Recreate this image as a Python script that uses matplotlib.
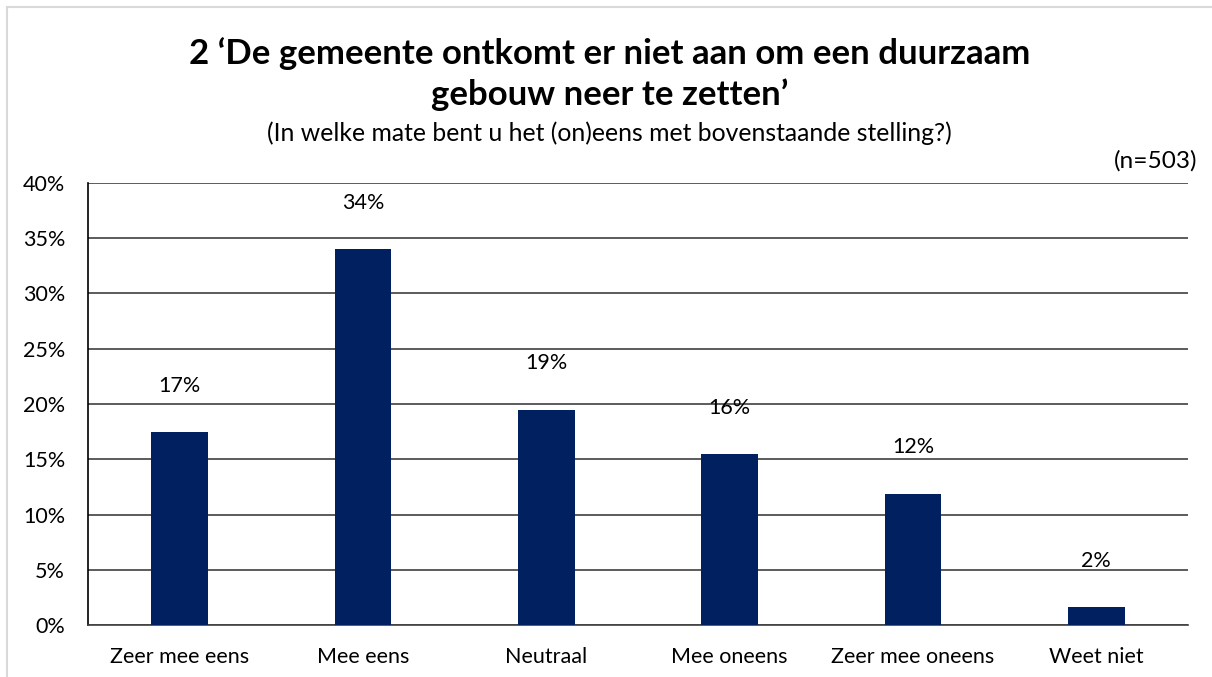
import matplotlib.pyplot as plt
from matplotlib.patches import Rectangle
from matplotlib.ticker import PercentFormatter

plt.rcParams['font.family'] = ['Lato', 'DejaVu Sans']

categories = ['Zeer mee eens', 'Mee eens', 'Neutraal', 'Mee oneens', 'Zeer mee oneens', 'Weet niet']
values = [17.5, 34.0, 19.5, 15.5, 11.9, 1.6]
labels = ['17%', '34%', '19%', '16%', '12%', '2%']
yticks = [0, 5, 10, 15, 20, 25, 30, 35, 40]

fig = plt.figure(figsize=(12.12, 6.77), dpi=100)
ax = fig.add_axes([0.0726, 0.0768, 0.9076, 0.6529])

x = range(len(categories))
ax.bar(x, values, width=0.31, color='#002060', zorder=3)
for xi, v, lab in zip(x, values, labels):
    ax.annotate(lab, (xi, v), xytext=(0, 26), textcoords='offset points',
                ha='center', va='bottom', fontsize=15.5)

ax.set_xlim(-0.5, len(categories) - 0.5)
ax.set_ylim(0, 40)
ax.set_yticks(yticks)
ax.yaxis.set_major_formatter(PercentFormatter(decimals=0))
ax.set_xticks(list(x))
ax.set_xticklabels(categories)
ax.tick_params(axis='both', length=0, labelsize=15.5)
ax.tick_params(axis='y', pad=16.5)
ax.tick_params(axis='x', pad=16)
ax.grid(axis='y', color='#404040', linewidth=1.2, zorder=0)
for s in ['top', 'right']:
    ax.spines[s].set_visible(False)
ax.spines['left'].set_color('black')
ax.spines['bottom'].set_color('#404040')
ax.spines['left'].set_linewidth(1.2)
ax.spines['bottom'].set_linewidth(1.2)

fig.text(0.503, 0.891, "2 \u2018De gemeente ontkomt er niet aan om een duurzaam\ngebouw neer te zetten\u2019",
         ha='center', va='center', fontsize=25, fontweight='bold', linespacing=1.3)
fig.text(0.503, 0.803, '(In welke mate bent u het (on)eens met bovenstaande stelling?)',
         ha='center', va='center', fontsize=17.8)
fig.text(0.988, 0.763, '(n=503)', ha='right', va='center', fontsize=17.6)

fig.patches.append(Rectangle((7 / 1212, -0.1), 1.2, (677 - 7) / 677 + 0.1,
                             transform=fig.transFigure, fill=False,
                             edgecolor='#d9d9d9', linewidth=1.5))

fig.savefig('out.png', dpi=100)
